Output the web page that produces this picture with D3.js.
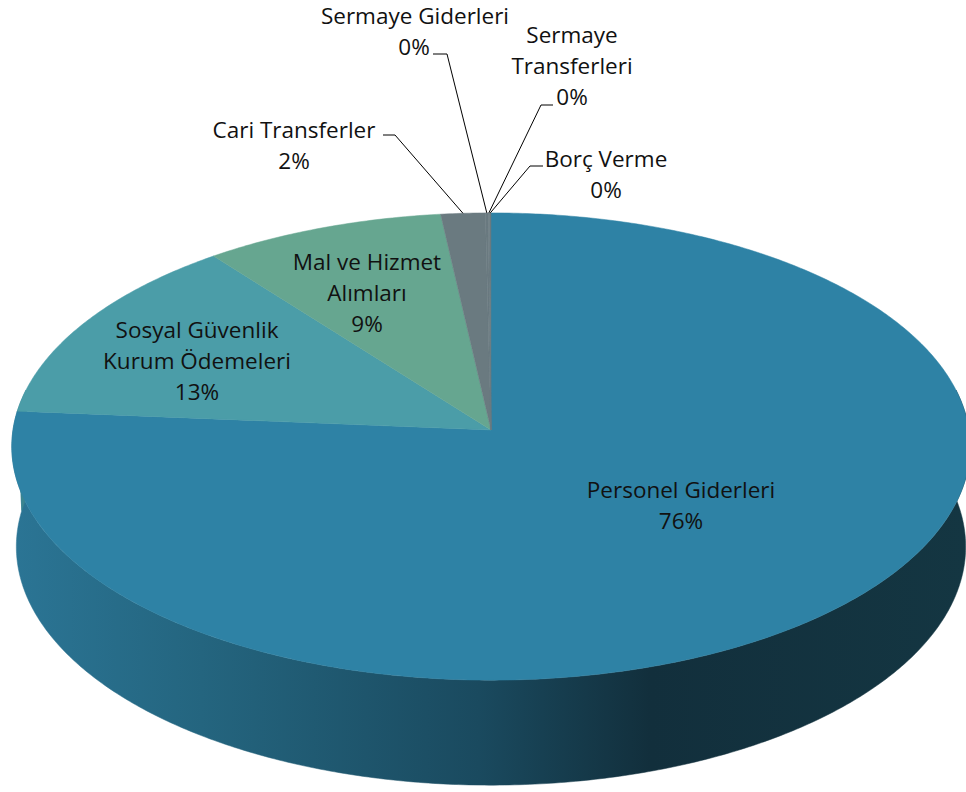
<!DOCTYPE html>
<html>
<head>
<meta charset="utf-8">
<script src="https://cdnjs.cloudflare.com/ajax/libs/d3/7.8.5/d3.min.js"></script>
<style>
  html, body { margin: 0; padding: 0; background: #fff; }
  #chart text { font-family: "Open Sans", "Noto Sans", sans-serif; font-size: 22.5px; fill: #111; }
</style>
</head>
<body>
<div id="chart"></div>
<script>
// data
var categories = ["Personel Giderleri", "Sosyal Güvenlik Kurum Ödemeleri", "Mal ve Hizmet Alımları",
                  "Cari Transferler", "Sermaye Giderleri", "Sermaye Transferleri", "Borç Verme"];
var shares = [76.3, 13.2, 8.7, 1.6, 0.1, 0.05, 0.05];

// label lines as they are broken in the picture
var labelLines = [
  ["Personel Giderleri"],
  ["Sosyal Güvenlik", "Kurum Ödemeleri"],
  ["Mal ve Hizmet", "Alımları"],
  ["Cari Transferler"],
  ["Sermaye Giderleri"],
  ["Sermaye", "Transferleri"],
  ["Borç Verme"]
];

var topColors = ["#2e82a5", "#4b9da8", "#66a690", "#6a7a80", "#6a7a80", "#6a7a80", "#6a7a80"];
var wallColors = ["url(#wallGrad)", "#3b8590", "#4f8a76", "#55656a", "#55656a", "#55656a", "#55656a"];

// label placement (center x, first baseline y, leader: [textside x, knee x, y])
var labelLayout = [
  { x: 681, y: 498 },
  { x: 197, y: 338 },
  { x: 367, y: 270 },
  { x: 294, y: 138, leader: [383, 395, 135] },
  { x: 415, y: 24, pctX: 414, leader: [433, 447, 54] },
  { x: 572, y: 43, leader: [553, 541, 105] },
  { x: 606, y: 167, leader: [543, 530, 166] }
];

var width = 966, height = 792;
var lineGap = 31;

// simple perspective camera looking down on the pie
var cx = 491, cy = 430, scale = 478;
var tilt = 29.1 * Math.PI / 180, camDist = 12.36, depth = 0.2417;

function project(x, y, z) {
  var d = y * Math.cos(tilt) - z * Math.sin(tilt);
  var v = y * Math.sin(tilt) + z * Math.cos(tilt);
  var f = 1 / (1 + d / camDist);
  return [cx + scale * x * f, cy - scale * v * f];
}
function rim(a, z) { return project(Math.sin(a), Math.cos(a), z); }

function arcPoints(a0, a1, z) {
  var n = Math.max(2, Math.ceil((a1 - a0) / 0.01));
  return d3.range(n + 1).map(function (i) { return rim(a0 + (a1 - a0) * i / n, z); });
}

var svg = d3.select("#chart").append("svg")
  .attr("width", width)
  .attr("height", height);

var grad = svg.append("defs").append("linearGradient")
  .attr("id", "wallGrad")
  .attr("gradientUnits", "userSpaceOnUse")
  .attr("x1", 10).attr("x2", 966).attr("y1", 0).attr("y2", 0);
[[0, "#2b7595"], [0.2, "#24657f"], [0.49, "#1a4a5f"], [0.67, "#122f3c"], [1, "#143642"]].forEach(function (s) {
  grad.append("stop").attr("offset", s[0]).attr("stop-color", s[1]);
});

var pie = d3.pie().sort(null).value(function (d) { return d; });
var arcs = pie(shares);
var line = d3.line();

// outer walls, only the front part shows
var frontLo = 80 * Math.PI / 180, frontHi = 280 * Math.PI / 180;
svg.append("g").selectAll("path")
  .data(arcs.filter(function (d) { return d.endAngle > frontLo && d.startAngle < frontHi; }))
  .enter().append("path")
  .attr("d", function (d) {
    var a0 = Math.max(d.startAngle, frontLo), a1 = Math.min(d.endAngle, frontHi);
    var pts = arcPoints(a0, a1, 0).concat(arcPoints(a0, a1, -depth).reverse());
    return line(pts) + "Z";
  })
  .attr("fill", function (d) { return wallColors[d.index]; })
  .attr("stroke", function (d) { return wallColors[d.index]; })
  .attr("stroke-width", 0.5);

// top face
svg.append("g").selectAll("path")
  .data(arcs)
  .enter().append("path")
  .attr("d", function (d) {
    return line([project(0, 0, 0)].concat(arcPoints(d.startAngle, d.endAngle, 0))) + "Z";
  })
  .attr("fill", function (d) { return topColors[d.index]; })
  .attr("stroke", function (d) { return topColors[d.index]; })
  .attr("stroke-width", 0.5);

// leader lines to the rim
var fmt = d3.format(".0%");
var total = d3.sum(shares);

svg.append("g").selectAll("polyline")
  .data(arcs.filter(function (d) { return labelLayout[d.index].leader; }))
  .enter().append("polyline")
  .attr("points", function (d) {
    var L = labelLayout[d.index].leader;
    var end = rim((d.startAngle + d.endAngle) / 2, 0);
    return [[L[0], L[2]], [L[1], L[2]], end].join(" ");
  })
  .attr("fill", "none")
  .attr("stroke", "#000")
  .attr("stroke-width", 1);

// labels
var labels = svg.append("g").selectAll("text")
  .data(arcs)
  .enter().append("text")
  .attr("text-anchor", "middle");

labels.each(function (d) {
  var t = d3.select(this), pos = labelLayout[d.index];
  var rows = labelLines[d.index].concat([fmt(shares[d.index] / total)]);
  rows.forEach(function (r, i) {
    var x = (i === rows.length - 1 && pos.pctX) ? pos.pctX : pos.x;
    t.append("tspan").attr("x", x).attr("y", pos.y + i * lineGap).text(r);
  });
});
</script>
</body>
</html>
